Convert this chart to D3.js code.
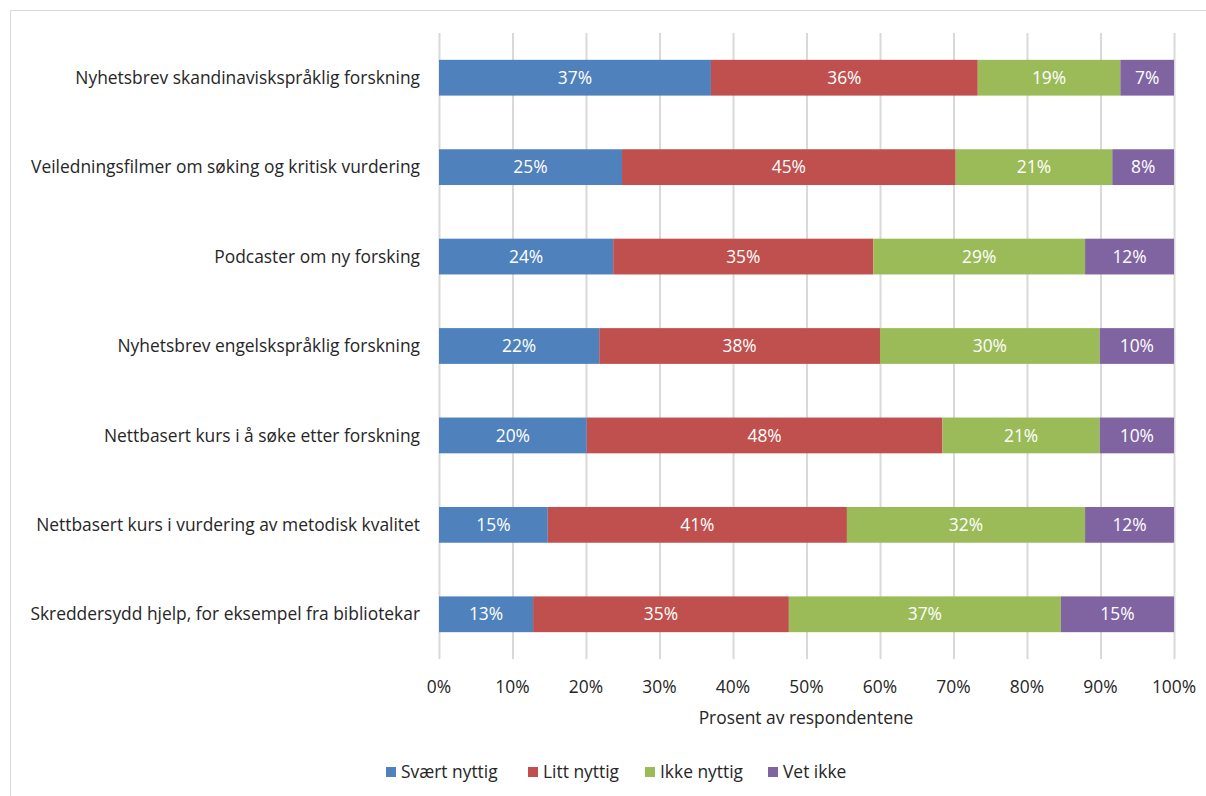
<!DOCTYPE html>
<html><head><meta charset="utf-8">
<script src="https://cdn.jsdelivr.net/npm/d3@7"></script>
<style>body{margin:0;background:#fff;} text{font-family:"Open Sans","Liberation Sans",Arial,sans-serif;}</style>
</head><body>
<svg id="c" width="1206" height="796"></svg>
<script>
const categories = [
  "Nyhetsbrev skandinaviskspråklig forskning",
  "Veiledningsfilmer om søking og kritisk vurdering",
  "Podcaster om ny forsking",
  "Nyhetsbrev engelskspråklig forskning",
  "Nettbasert kurs i å søke etter forskning",
  "Nettbasert kurs i vurdering av metodisk kvalitet",
  "Skreddersydd hjelp, for eksempel fra bibliotekar"
];
const seriesNames = ["Svært nyttig", "Litt nyttig", "Ikke nyttig", "Vet ikke"];
const svaertNyttig = [37.0, 24.9, 23.7, 21.8, 20.1, 14.8, 12.8];
const littNyttig   = [36.3, 45.4, 35.4, 38.2, 48.4, 40.7, 34.8];
const ikkeNyttig   = [19.4, 21.3, 28.8, 29.9, 21.4, 32.4, 37.0];
const vetIkke      = [7.3, 8.4, 12.1, 10.1, 10.1, 12.1, 15.4];
const xTicks = [0,10,20,30,40,50,60,70,80,90,100];
const colors = ["#4F81BD", "#C0504D", "#9BBB59", "#8064A2"];

const FS = 17.4;
const svg = d3.select("#c");
svg.append("rect").attr("x",10.5).attr("y",10.5).attr("width",1210).attr("height",800)
  .attr("fill","none").attr("stroke","#D9D9D9");

const x = d3.scaleLinear().domain([0,100]).range([439,1174]);
const y = d3.scaleBand().domain(categories).range([33,659]).paddingInner(0.6).paddingOuter(0.3);

// gridlines
svg.append("g").selectAll("line").data(xTicks).join("line")
  .attr("x1",d=>x(d)+0.5).attr("x2",d=>x(d)+0.5).attr("y1",33).attr("y2",659)
  .attr("stroke","#D9D9D9").attr("stroke-width",2);

const seriesVals = [svaertNyttig, littNyttig, ikkeNyttig, vetIkke];
const rows = categories.map((c,i)=>{ const o={cat:c}; seriesNames.forEach((s,j)=>o[s]=seriesVals[j][i]); return o;});
const stack = d3.stack().keys(seriesNames)(rows);

const g = svg.append("g");
stack.forEach((layer,j)=>{
  const lg = g.append("g");
  lg.selectAll("rect").data(layer).join("rect")
    .attr("x",d=>x(d[0])).attr("width",d=>x(d[1])-x(d[0]))
    .attr("y",d=>y(d.data.cat)).attr("height",y.bandwidth())
    .attr("fill",colors[j]);
  lg.selectAll("text").data(layer).join("text")
    .attr("x",d=>(x(d[0])+x(d[1]))/2).attr("y",d=>y(d.data.cat)+y.bandwidth()/2)
    .attr("dy","0.35em").attr("text-anchor","middle").attr("fill","#fff")
    .attr("font-size",FS)
    .text((d,i)=>Math.round(seriesVals[j][i])+"%");
});

// category labels
svg.append("g").selectAll("text").data(categories).join("text")
  .attr("x",420).attr("y",d=>y(d)+y.bandwidth()/2).attr("dy","0.35em")
  .attr("text-anchor","end").attr("font-size",FS).attr("fill","#262626").text(d=>d);

// x axis labels
svg.append("g").selectAll("text").data(xTicks).join("text")
  .attr("x",d=>x(d)).attr("y",687).attr("dy","0.35em").attr("text-anchor","middle")
  .attr("font-size",FS).attr("fill","#262626").text(d=>d+"%");

svg.append("text").attr("x",806).attr("y",718).attr("dy","0.35em").attr("text-anchor","middle")
  .attr("font-size",FS).attr("fill","#262626").text("Prosent av respondentene");

// legend
const legX = [386, 528, 645, 768];
const lg = svg.append("g").selectAll("g").data(seriesNames).join("g")
  .attr("transform",(d,i)=>`translate(${legX[i]},772)`);
lg.append("rect").attr("x",0).attr("y",-5).attr("width",10).attr("height",10).attr("fill",(d,i)=>colors[i]);
lg.append("text").attr("x",15).attr("y",0).attr("dy","0.35em").attr("font-size",FS).attr("fill","#262626").text(d=>d);
</script>
</body></html>
